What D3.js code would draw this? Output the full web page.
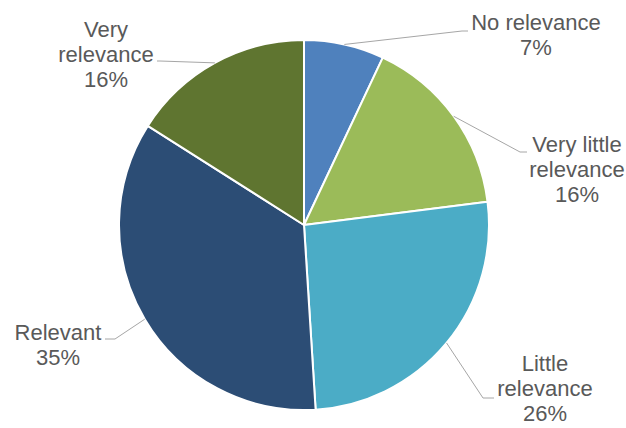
<!DOCTYPE html>
<html>
<head>
<meta charset="utf-8">
<script src="https://cdn.jsdelivr.net/npm/d3@7"></script>
<style>
  body { margin: 0; background: #fff; }
  svg { display: block; font-family: "Liberation Sans", Arial, sans-serif; }
</style>
</head>
<body>
<svg id="chart" width="626" height="428"></svg>
<script>
// slices, clockwise from 12 o'clock
const categories = ["No relevance", "Very little relevance", "Little relevance", "Relevant", "Very relevance"]
const shares = [7, 16, 26, 35, 16]
const colors = ["#4f81bd", "#9bbb59", "#4bacc6", "#2c4d75", "#5f7530"]

// how Excel wrapped each category name
const wrapped = [
  ["No relevance"],
  ["Very little", "relevance"],
  ["Little", "relevance"],
  ["Relevant"],
  ["Very", "relevance"]
]

// manual label placement (text centre x, first baseline y, elbow, end of leader)
const labelLayout = [
  {x: 536, y: 30, elbow: [462, 31], end: [468, 31]},
  {x: 577, y: 152, elbow: [520, 152], end: [527, 152]},
  {x: 545, y: 371, elbow: [483, 398], end: [494, 398]},
  {x: 58, y: 340, elbow: [115, 339], end: [105, 339]},
  {x: 106, y: 37, elbow: [160, 61], end: [157, 61]}
]

const width = 626, height = 428
const cx = 304, cy = 225, radius = 185
const lineGap = 25

const svg = d3.select("#chart")
const g = svg.append("g").attr("transform", `translate(${cx},${cy})`)

const pie = d3.pie().sort(null).value(d => d)
const arcs = pie(shares)
const arc = d3.arc().innerRadius(0).outerRadius(radius)

g.selectAll("path.slice")
  .data(arcs).enter()
  .append("path")
  .attr("class", "slice")
  .attr("d", arc)
  .attr("fill", (d, i) => colors[i])
  .attr("stroke", "#fff")
  .attr("stroke-width", 2)
  .attr("stroke-linejoin", "round")

// leader lines from the middle of each slice's rim
svg.selectAll("polyline.leader")
  .data(arcs).enter()
  .append("polyline")
  .attr("class", "leader")
  .attr("points", (d, i) => {
    let mid = (d.startAngle + d.endAngle) / 2
    let p = [cx + radius * Math.sin(mid), cy - radius * Math.cos(mid)]
    let l = labelLayout[i]
    return [p, l.elbow, l.end].map(q => q.join(",")).join(" ")
  })
  .attr("fill", "none")
  .attr("stroke", "#a6a6a6")
  .attr("stroke-width", 1)

const labels = svg.selectAll("text.label")
  .data(arcs).enter()
  .append("text")
  .attr("class", "label")
  .attr("text-anchor", "middle")
  .attr("font-size", 22)
  .attr("fill", "#595959")

labels.each(function(d, i) {
  let l = labelLayout[i]
  let lines = wrapped[i].concat([`${shares[i]}%`])
  d3.select(this).selectAll("tspan")
    .data(lines).enter()
    .append("tspan")
    .attr("x", l.x)
    .attr("y", (s, j) => l.y + j * lineGap)
    .text(s => s)
})
</script>
</body>
</html>
